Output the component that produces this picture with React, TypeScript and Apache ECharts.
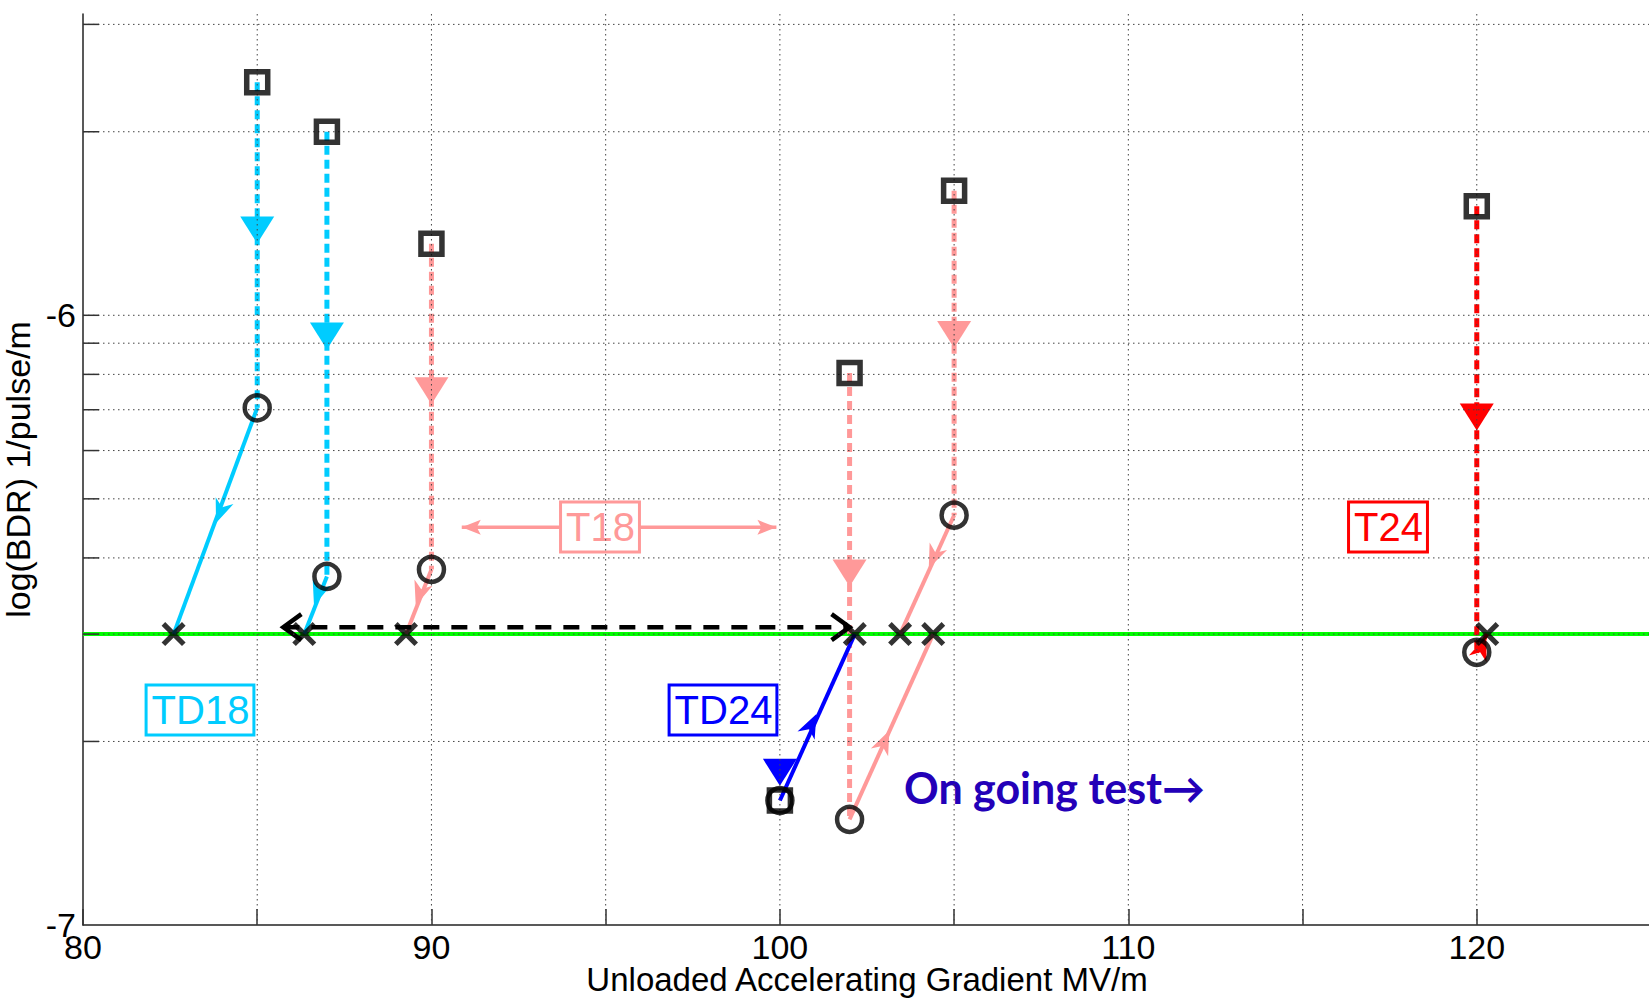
import React, { useEffect, useRef } from 'react';
import * as echarts from 'echarts';

// ---------- axes ----------
const X_MIN = 80;
const X_MAX = 125;
const X_STEP = 5;
const X_LABELS = [80, 90, 100, 110, 120];
const X_GRID = [85, 90, 95, 100, 105, 110, 115, 120];
const Y_MIN = 1e-7;
const Y_MAX = 3.12e-6;
const Y_GRID = [2e-7, 3e-7, 4e-7, 5e-7, 6e-7, 7e-7, 8e-7, 9e-7, 1e-6, 2e-6, 3e-6];
const TARGET_BDR = 3e-7;

// ---------- tests ----------
const testGroup = ['TD18', 'TD18', 'T18', 'T18', 'T18', 'TD24', 'T24'];
const testGrad = [85, 87, 90, 102, 105, 100, 120];           // gradient of square / circle
const startBDR = [2.41e-6, 2.0e-6, 1.31e-6, 8.04e-7, 1.6e-6, 1.6e-7, 1.51e-6]; // squares
const afterBDR = [7.05e-7, 3.73e-7, 3.83e-7, 1.49e-7, 4.7e-7, 1.6e-7, 2.8e-7]; // circles
const scaledGrad = [82.6, 86.35, 89.27, 104.4, 103.45, 102.15, 120.3];          // crosses at target BDR

// arrow heads on the dashed (conditioning) lines
const bigArrowBDR = [1.38e-6, 9.25e-7, 7.52e-7, 3.78e-7, 9.3e-7, 1.78e-7, 6.81e-7];
// arrow heads on the solid (scaling) lines
const smallArrowGrad = [83.94, 86.74, 89.66, 103.0, 104.41, 100.9, 120.15];
const smallArrowBDR = [4.76e-7, 3.49e-7, 3.49e-7, 2.0e-7, 4.01e-7, 2.13e-7, 2.85e-7];

// annotation arrows
const blackSpanGrad = [85.75, 102.0];
const blackSpanBDR = 3.08e-7;
const t18SpanGrad = [90.87, 99.9];
const t18SpanBDR = 4.49e-7;

const groupColor: Record<string, string> = {
  TD18: '#00CCFF',
  T18: '#FF9999',
  TD24: '#0000FF',
  T24: '#FF0000',
};

const FONT = '"Liberation Sans", Arial, Helvetica, sans-serif';
const CROSS = 'path://M0,1.5 L1.5,0 L10,8.5 L8.5,10 Z M8.5,0 L10,1.5 L1.5,10 L0,8.5 Z';

type Kind = 'big' | 'small' | 'narrow' | 'open';

function headSeries(name: string, items: any[], kind: Kind, away: boolean, z: number) {
  return {
    type: 'custom',
    name,
    z,
    silent: true,
    coordinateSystem: 'cartesian2d',
    dimensions: ['x', 'y', 'tx', 'ty'],
    encode: { x: 0, y: 1 },
    data: items,
    renderItem: (params: any, api: any) => {
      const p = api.coord([api.value(0), api.value(1)]);
      const q = api.coord([api.value(2), api.value(3)]);
      let dx = q[0] - p[0];
      let dy = q[1] - p[1];
      if (away) {
        dx = -dx;
        dy = -dy;
      }
      const len = Math.hypot(dx, dy) || 1;
      const ux = dx / len;
      const uy = dy / len;
      const nx = -uy;
      const ny = ux;
      const color = api.visual('color');
      const pt = (a: number, b: number) => [p[0] + ux * a + nx * b, p[1] + uy * a + ny * b];
      if (kind === 'big') {
        const L = 27, W = 34;
        return { type: 'polygon', shape: { points: [pt(L / 2, 0), pt(-L / 2, W / 2), pt(-L / 2, -W / 2)] }, style: { fill: color } };
      }
      if (kind === 'small') {
        const L = 24, W = 19, N = 7;
        return {
          type: 'polygon',
          shape: { points: [pt(L / 2, 0), pt(-L / 2, W / 2), pt(-L / 2 + N, 0), pt(-L / 2, -W / 2)] },
          style: { fill: color },
        };
      }
      if (kind === 'narrow') {
        const L = 19, W = 15, N = 4;
        return {
          type: 'polygon',
          shape: { points: [pt(0, 0), pt(-L, W / 2), pt(-L + N, 0), pt(-L, -W / 2)] },
          style: { fill: color },
        };
      }
      const L = 18, W = 26;
      return {
        type: 'polyline',
        shape: { points: [pt(-L, W / 2), pt(0, 0), pt(-L, -W / 2)] },
        style: { stroke: color, lineWidth: 4.5, fill: 'none' },
      };
    },
  };
}

// full-width horizontal / full-height vertical rule lines through the axes' scales
function ruleSeries(name: string, dir: 'h' | 'v', values: number[], style: any, z: number) {
  return {
    type: 'custom',
    name,
    z,
    silent: true,
    coordinateSystem: 'cartesian2d',
    clip: false,
    data: values.map((v) => (dir === 'h' ? [X_MIN, v] : [v, Y_MIN])),
    renderItem: (params: any, api: any) => {
      const cs = params.coordSys;
      const p = api.coord([api.value(0), api.value(1)]);
      const shape =
        dir === 'h'
          ? { x1: cs.x, y1: p[1], x2: cs.x + cs.width, y2: p[1] }
          : { x1: p[0], y1: cs.y, x2: p[0], y2: cs.y + cs.height };
      return { type: 'line', shape, style };
    },
  };
}

function buildOption() {
  const series: any[] = [];
  const gridStyle = { stroke: '#444', lineWidth: 1, lineDash: [1.5, 3.5] };

  // grid lines (drawn on top of the data lines, as in the original)
  series.push(ruleSeries('hGrid', 'h', Y_GRID, gridStyle, 5));
  series.push(ruleSeries('vGrid', 'v', X_GRID, gridStyle, 5));
  // target line
  series.push(ruleSeries('target', 'h', [TARGET_BDR], { stroke: '#00FF00', lineWidth: 4 }, 1));

  // dashed and solid lines per test
  testGrad.forEach((g, i) => {
    const color = groupColor[testGroup[i]];
    series.push({
      type: 'line',
      name: 'cond' + i,
      silent: true,
      symbol: 'none',
      z: 2,
      data: [[g, startBDR[i]], [g, afterBDR[i]]],
      lineStyle: { color, width: 5, type: [9, 5] },
    });
    series.push({
      type: 'line',
      name: 'scale' + i,
      silent: true,
      symbol: 'none',
      z: 2,
      data: [[g, afterBDR[i]], [scaledGrad[i], TARGET_BDR]],
      lineStyle: { color, width: 4, type: 'solid' },
    });
  });

  // black dashed double arrow
  series.push({
    type: 'line',
    name: 'blackSpan',
    silent: true,
    symbol: 'none',
    z: 2,
    data: blackSpanGrad.map((g) => [g, blackSpanBDR]),
    lineStyle: { color: '#000', width: 4.5, type: [16, 12] },
  });
  series.push(
    headSeries(
      'blackHeads',
      [
        { value: [blackSpanGrad[0], blackSpanBDR, blackSpanGrad[1], blackSpanBDR], itemStyle: { color: '#000' } },
        { value: [blackSpanGrad[1], blackSpanBDR, blackSpanGrad[0], blackSpanBDR], itemStyle: { color: '#000' } },
      ],
      'open',
      true,
      3
    )
  );

  // pink T18 double arrow
  series.push({
    type: 'line',
    name: 't18Span',
    silent: true,
    symbol: 'none',
    z: 2,
    data: t18SpanGrad.map((g) => [g, t18SpanBDR]),
    lineStyle: { color: groupColor.T18, width: 3.5, type: 'solid' },
  });
  series.push(
    headSeries(
      't18Heads',
      [
        { value: [t18SpanGrad[0], t18SpanBDR, t18SpanGrad[1], t18SpanBDR], itemStyle: { color: groupColor.T18 } },
        { value: [t18SpanGrad[1], t18SpanBDR, t18SpanGrad[0], t18SpanBDR], itemStyle: { color: groupColor.T18 } },
      ],
      'narrow',
      true,
      3
    )
  );

  // arrow heads on test lines
  series.push(
    headSeries(
      'bigArrows',
      testGrad.map((g, i) => ({
        value: [g, bigArrowBDR[i], g, afterBDR[i]],
        itemStyle: { color: groupColor[testGroup[i]] },
      })),
      'big',
      false,
      3
    )
  );
  series.push(
    headSeries(
      'smallArrows',
      smallArrowGrad.map((g, i) => ({
        value: [g, smallArrowBDR[i], scaledGrad[i], TARGET_BDR],
        itemStyle: { color: groupColor[testGroup[i]] },
      })),
      'small',
      false,
      3
    )
  );

  // y ticks (inside)
  series.push({
    type: 'custom',
    name: 'yTicks',
    silent: true,
    z: 6,
    coordinateSystem: 'cartesian2d',
    data: Y_GRID.map((v) => [X_MIN, v]),
    renderItem: (params: any, api: any) => {
      const p = api.coord([api.value(0), api.value(1)]);
      return {
        type: 'line',
        shape: { x1: p[0], y1: p[1], x2: p[0] + 16, y2: p[1] },
        style: { stroke: '#333', lineWidth: 1.5 },
      };
    },
  });

  // markers
  series.push({
    type: 'scatter',
    name: 'start',
    silent: true,
    z: 10,
    symbol: 'rect',
    symbolSize: 21,
    itemStyle: { color: 'rgba(0,0,0,0)', borderColor: '#000', borderWidth: 5.5 },
    data: testGrad.map((g, i) => [g, startBDR[i]]),
  });
  series.push({
    type: 'scatter',
    name: 'after',
    silent: true,
    z: 10,
    symbol: 'circle',
    symbolSize: 25,
    itemStyle: { color: 'rgba(0,0,0,0)', borderColor: '#000', borderWidth: 4.5 },
    data: testGrad.map((g, i) => [g, afterBDR[i]]),
  });
  series.push({
    type: 'scatter',
    name: 'scaled',
    silent: true,
    z: 10,
    symbol: CROSS,
    symbolSize: 24,
    itemStyle: { color: '#000' },
    data: scaledGrad.map((g) => [g, TARGET_BDR]),
  });

  const box = (text: string, x: number, y: number, color: string) => ({
    type: 'text',
    x,
    y,
    z: 4,
    silent: true,
    style: {
      text,
      fill: color,
      fontSize: 40,
      fontFamily: FONT,
      align: 'center',
      verticalAlign: 'middle',
      backgroundColor: '#fff',
      borderColor: color,
      borderWidth: 3,
      padding: [5, 3, 2, 4],
    },
  });

  return {
    animation: false,
    backgroundColor: '#fff',
    grid: { left: 83, top: 14, width: 1568, bottom: 73, containLabel: false, outerBoundsMode: 'none' },
    xAxis: {
      type: 'value',
      min: X_MIN,
      max: X_MAX,
      interval: X_STEP,
      name: 'Unloaded Accelerating Gradient MV/m',
      nameLocation: 'middle',
      nameGap: 40,
      nameMoveOverlap: false,
      nameTextStyle: { fontSize: 33, lineHeight: 28, fontFamily: FONT, color: '#000' },
      axisLine: { onZero: false, lineStyle: { color: '#222', width: 1.5 } },
      axisTick: { inside: true, length: 16, lineStyle: { color: '#333', width: 1.5 } },
      splitLine: { show: false },
      axisLabel: {
        fontSize: 34,
        lineHeight: 28,
        fontFamily: FONT,
        color: '#000',
        margin: 8,
        formatter: (v: number) => (X_LABELS.indexOf(v) >= 0 ? String(v) : ''),
      },
    },
    yAxis: {
      type: 'log',
      logBase: 10,
      min: Y_MIN,
      max: Y_MAX,
      name: 'log(BDR) 1/pulse/m',
      nameLocation: 'middle',
      nameGap: 42,
      nameTextStyle: { fontSize: 34, fontFamily: FONT, color: '#000' },
      axisLine: { show: true, lineStyle: { color: '#222', width: 1.5 } },
      axisTick: { show: false },
      splitLine: { show: false },
      axisLabel: {
        fontSize: 34,
        fontFamily: FONT,
        color: '#000',
        margin: 7,
        showMaxLabel: false,
        formatter: (v: number) => {
          const l = Math.log10(v);
          return Math.abs(l - Math.round(l)) < 1e-6 ? String(Math.round(l)) : '';
        },
      },
    },
    graphic: [
      box('TD18', 200, 710, groupColor.TD18),
      box('TD24', 723, 710, groupColor.TD24),
      box('T18', 600, 527, groupColor.T18),
      box('T24', 1388, 527, groupColor.T24),
      {
        type: 'text',
        x: 904,
        y: 787,
        z: 4,
        silent: true,
        style: {
          text: 'On going test→',
          fill: '#2300B8',
          fontSize: 43,
          fontWeight: 'bold',
          fontFamily: 'Lato, "Open Sans", sans-serif',
          align: 'left',
          verticalAlign: 'middle',
        },
      },
    ],
    series,
  };
}

export default function App() {
  const ref = useRef<HTMLDivElement>(null);
  useEffect(() => {
    if (!ref.current) return;
    const chart = echarts.init(ref.current, undefined, { renderer: 'svg' });
    chart.setOption(buildOption() as any);
    return () => chart.dispose();
  }, []);
  return (
    <div
      ref={ref}
      style={{ position: 'absolute', left: 0, top: 0, width: 1649, height: 998, background: '#fff' }}
    />
  );
}
